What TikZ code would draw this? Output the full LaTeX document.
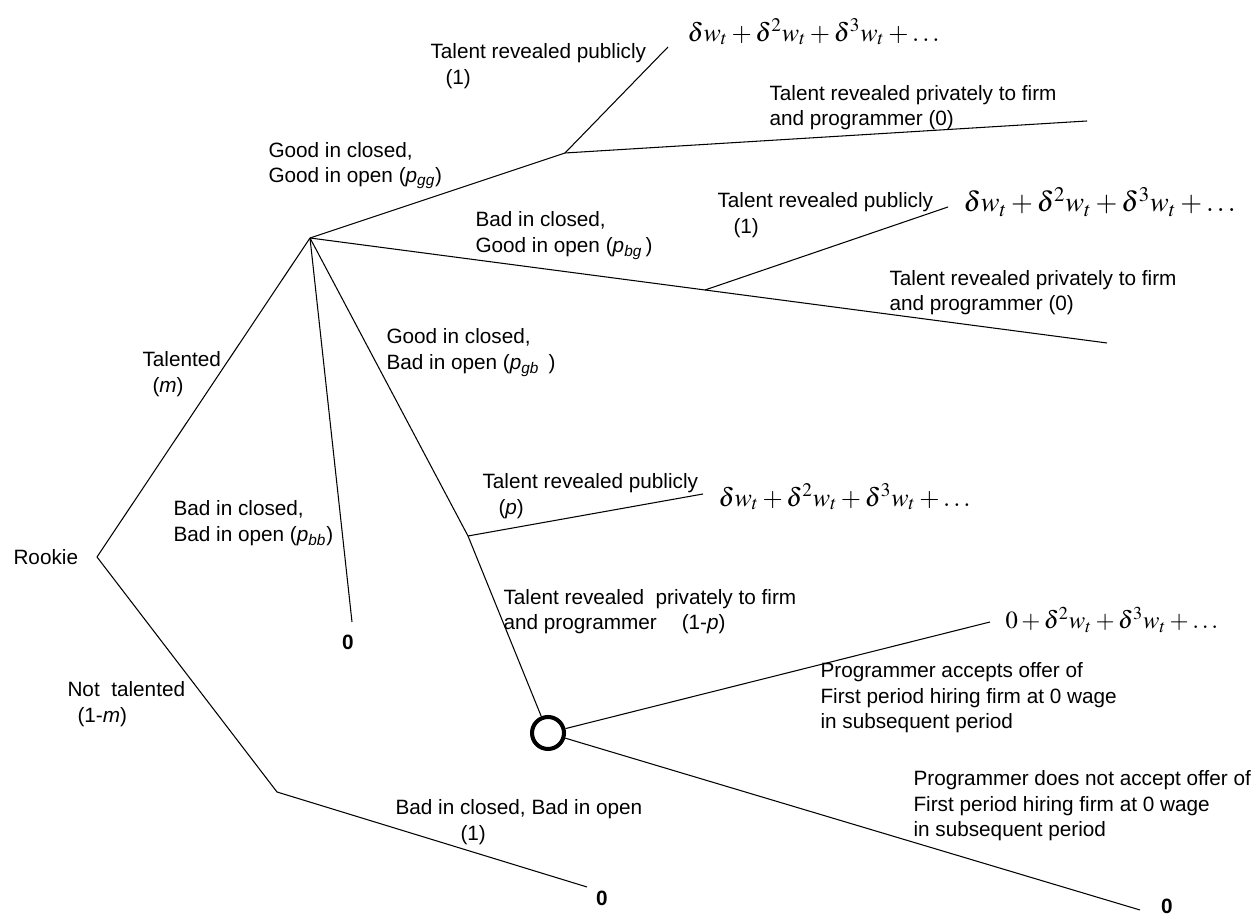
\documentclass[tikz,border=0pt]{standalone}
\usepackage{mathptmx}
\usepackage{fontspec}
\setmainfont{Liberation Sans}
\begin{document}
\begin{tikzpicture}[line width=0.6pt,
  every node/.style={font=\fontsize{11.8}{14.5}\selectfont},
  lbl/.style={anchor=west,align=left,inner sep=0pt},
  pay/.style={anchor=west,inner sep=0pt,font=\fontsize{14.8}{17}\selectfont},
  zero/.style={inner sep=0pt,font=\fontsize{11.8}{14.5}\selectfont\bfseries}]
\useasboundingbox (0,0) rectangle (25.2,18.34);
%\draw[step=0.5cm,gray,very thin] (0,0) grid (25.2,18.34); %background grid

% decision points
\coordinate (rk)  at (1.94,7.20);
\coordinate (tal) at (6.20,13.58);
\coordinate (gg)  at (11.30,15.28);
\coordinate (bg)  at (14.10,12.54);
\coordinate (gb)  at (9.36,7.62);
\coordinate (nt)  at (5.54,2.50);
\node[draw,circle,line width=2.3pt,minimum size=0.64cm,inner sep=0pt] (dec) at (10.96,3.68) {};

% free ends
\coordinate (ggpub)  at (13.36,17.40);
\coordinate (ggpriv) at (21.74,15.92);
\coordinate (bgpub)  at (18.96,14.20);
\coordinate (bgpriv) at (22.14,11.48);
\coordinate (gbpub)  at (14.06,8.46);
\coordinate (bbend)  at (7.04,5.90);
\coordinate (acc)    at (19.80,5.90);
\coordinate (rej)    at (22.80,0.14);
\coordinate (ntend)  at (11.74,0.60);

\draw (rk)--(tal); \draw (rk)--(nt)--(ntend);
\draw (tal)--(gg); \draw (gg)--(ggpub); \draw (gg)--(ggpriv);
\draw (tal)--(bg); \draw (bg)--(bgpub); \draw (bg)--(bgpriv);
\draw (tal)--(bbend);
\draw (tal)--(gb); \draw (gb)--(gbpub); \draw (gb)--(dec);
\draw (dec)--(acc); \draw (dec)--(rej);

% labels
\node[lbl] (lrk)   at (0.26,7.20)  {Rookie};
\node[lbl] (ltal)  at (2.84,10.86) {Talented\\\hspace*{0.2cm}(\textit{m})};
\node[lbl] (lnt)   at (1.34,4.26)  {Not\ \ talented\\\hspace*{0.2cm}(1-\textit{m})};
\node[lbl] (lgg)   at (5.36,15.03) {Good in closed,\\Good in open (\textit{p}\textsubscript{\textit{gg}})};
\node[lbl] (lbg)   at (9.50,13.63) {Bad in closed,\\Good in open (\textit{p}\textsubscript{\textit{bg}}\,)};
\node[lbl] (lgb)   at (7.72,11.29) {Good in closed,\\Bad in open (\textit{p}\textsubscript{\textit{gb}}\ \,)};
\node[lbl] (lbb)   at (3.46,7.88)  {Bad in closed,\\Bad in open (\textit{p}\textsubscript{\textit{bb}})};
\node[lbl] (lbb1)  at (7.90,1.90)  {Bad in closed, Bad in open\\\hspace*{1.3cm}(1)};
\node[lbl] (lpub1) at (8.60,17.02) {Talent revealed publicly\\\hspace*{0.3cm}(1)};
\node[lbl] (lprv1) at (15.38,16.19) {Talent revealed privately to firm\\and programmer (0)};
\node[lbl] (lpub2) at (14.34,14.04) {Talent revealed publicly\\\hspace*{0.32cm}(1)};
\node[lbl] (lprv2) at (17.78,12.49) {Talent revealed privately to firm\\and programmer (0)};
\node[lbl] (lpub3) at (9.64,8.42)  {Talent revealed publicly\\\hspace*{0.32cm}(\textit{p})};
\node[lbl] (lprv3) at (10.06,6.11) {Talent revealed\ \ privately to firm\\and programmer\hspace{0.5cm}(1-\textit{p})};
\node[lbl] (lacc)  at (16.40,4.38) {Programmer accepts offer of\\First period hiring firm at 0 wage\\in subsequent period};
\node[lbl] (lrej)  at (18.26,2.22) {Programmer does not accept offer of\\First period hiring firm at 0 wage\\in subsequent period};

% payoffs
\node[pay] (pay1) at (13.74,17.70) {$\delta w_t+\delta^2 w_t+\delta^3 w_t+\ldots$};
\node[pay,font=\fontsize{16}{18}\selectfont] (pay2) at (19.26,14.30) {$\delta w_t+\delta^2 w_t+\delta^3 w_t+\ldots$};
\node[pay] (pay3) at (14.36,8.40) {$\delta w_t+\delta^2 w_t+\delta^3 w_t+\ldots$};
\node[pay,font=\fontsize{14}{16}\selectfont] (pay4) at (20.10,5.94) {$0+\delta^2 w_t+\delta^3 w_t+\ldots$};
\node[zero] (z1) at (6.96,5.50)  {0};
\node[zero] (z2) at (12.04,0.38) {0};
\node[zero] (z3) at (23.34,0.22) {0};
\end{tikzpicture}
\end{document}
